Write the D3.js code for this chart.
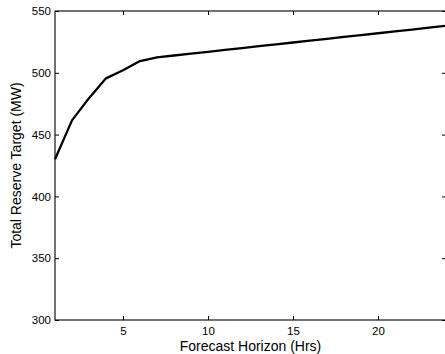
<!DOCTYPE html>
<html><head><meta charset="utf-8">
<script src="https://cdn.jsdelivr.net/npm/d3@7"></script>
<style>body{margin:0;background:#fff}svg{display:block}</style>
</head><body>
<script>
const hours = [1,2,3,4,5,6,7,8,9,10,11,12,13,14,15,16,17,18,19,20,21,22,23,24];
const reserve = [430,461.5,479.5,495.5,502,509.5,512.5,514,515.5,517,518.5,520,521.5,523,524.5,526,527.5,529,530.5,532,533.5,535,536.5,538];
const xTicks = [5,10,15,20];
const yTicks = [300,350,400,450,500,550];

const W = 445, H = 354;
const svg = d3.select("body").append("svg").attr("width", W).attr("height", H);
const x = d3.scaleLinear().domain([1,24]).range([55,446]);
const y = d3.scaleLinear().domain([300,550]).range([320,11]);
const font = "Liberation Sans, Arial, Helvetica, sans-serif";

// frame
svg.append("rect").attr("x",x(1)).attr("y",y(550)).attr("width",x(24)-x(1)).attr("height",y(300)-y(550))
  .attr("fill","none").attr("stroke","#000").attr("stroke-width",1.1);

// bottom axis
const bx = svg.append("g").attr("transform",`translate(0,${y(300)})`)
  .call(d3.axisBottom(x).tickValues(xTicks).tickSize(-4).tickPadding(7).tickFormat(d3.format("d")));
bx.select(".domain").remove();
// top ticks
svg.append("g").attr("transform",`translate(0,${y(550)})`)
  .call(d3.axisTop(x).tickValues(xTicks).tickSize(-4).tickFormat(""))
  .select(".domain").remove();
// left axis
const ly = svg.append("g").attr("transform",`translate(${x(1)},0)`)
  .call(d3.axisLeft(y).tickValues(yTicks).tickSize(-4).tickPadding(4).tickFormat(d3.format("d")));
ly.select(".domain").remove();
// right ticks
svg.append("g").attr("transform",`translate(${x(24)},0)`)
  .call(d3.axisRight(y).tickValues(yTicks).tickSize(-4).tickFormat(""))
  .select(".domain").remove();

svg.selectAll(".tick text").attr("font-family",font).attr("font-size",11.5).attr("fill","#000");
svg.selectAll(".tick line").attr("stroke","#000");

// line
svg.append("path").datum(hours.map((h,i)=>[h,reserve[i]]))
  .attr("d", d3.line().x(d=>x(d[0])).y(d=>y(d[1])))
  .attr("fill","none").attr("stroke","#000").attr("stroke-width",2.3).attr("stroke-linejoin","round");

// labels
svg.append("text").attr("x",(x(1)+x(24))/2).attr("y",351).attr("text-anchor","middle")
  .attr("font-family",font).attr("font-size",14).text("Forecast Horizon (Hrs)");
svg.append("text").attr("transform",`translate(21,${(y(300)+y(550))/2}) rotate(-90)`).attr("text-anchor","middle")
  .attr("font-family",font).attr("font-size",14).text("Total Reserve Target (MW)");
</script>
</body></html>
